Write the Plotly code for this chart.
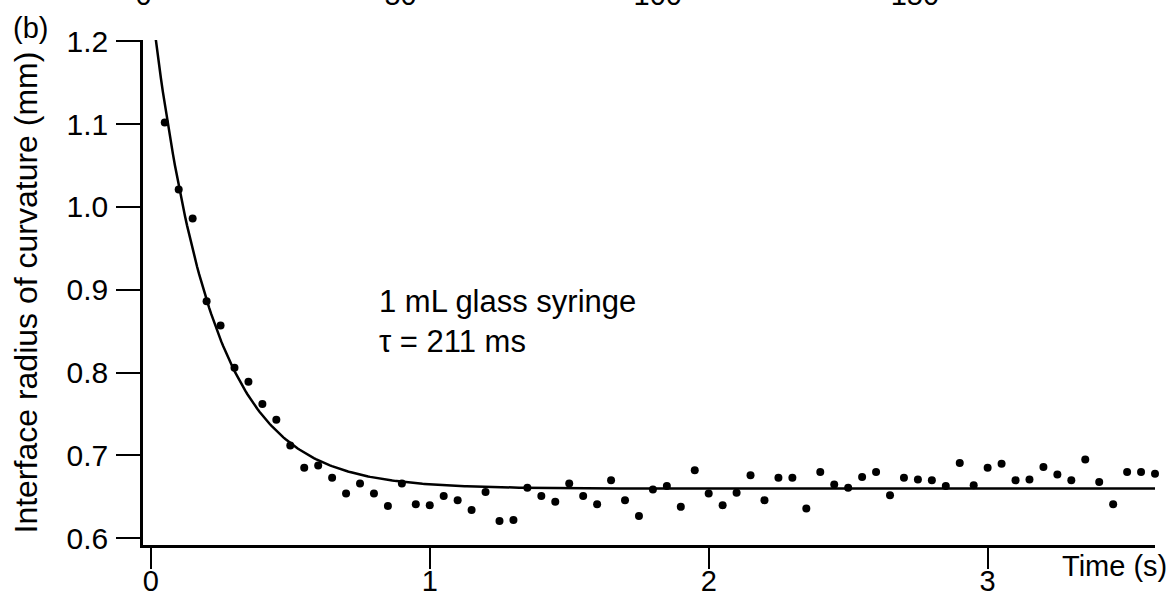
import plotly.graph_objects as go
import numpy as np

# ---- data ----
time_s = [0.05, 0.10, 0.15, 0.20, 0.25, 0.30, 0.35, 0.40, 0.45, 0.50,
          0.55, 0.60, 0.65, 0.70, 0.75, 0.80, 0.85, 0.90, 0.95, 1.00,
          1.05, 1.10, 1.15, 1.20, 1.25, 1.30, 1.35, 1.40, 1.45, 1.50,
          1.55, 1.60, 1.65, 1.70, 1.75, 1.80, 1.85, 1.90, 1.95, 2.00,
          2.05, 2.10, 2.15, 2.20, 2.25, 2.30, 2.35, 2.40, 2.45, 2.50,
          2.55, 2.60, 2.65, 2.70, 2.75, 2.80, 2.85, 2.90, 2.95, 3.00,
          3.05, 3.10, 3.15, 3.20, 3.25, 3.30, 3.35, 3.40, 3.45, 3.50,
          3.55, 3.60]
radius_mm = [1.102, 1.021, 0.986, 0.886, 0.857, 0.806, 0.789, 0.762, 0.743, 0.712,
             0.685, 0.688, 0.673, 0.654, 0.666, 0.654, 0.639, 0.666, 0.641, 0.640,
             0.651, 0.646, 0.634, 0.656, 0.621, 0.622, 0.661, 0.651, 0.644, 0.666,
             0.651, 0.641, 0.670, 0.646, 0.627, 0.659, 0.663, 0.638, 0.682, 0.654,
             0.640, 0.655, 0.676, 0.646, 0.673, 0.673, 0.636, 0.680, 0.665, 0.661,
             0.674, 0.680, 0.652, 0.673, 0.671, 0.670, 0.663, 0.691, 0.664, 0.685,
             0.690, 0.670, 0.671, 0.686, 0.677, 0.670, 0.695, 0.668, 0.641, 0.680,
             0.680, 0.678]

# exponential fit parameters (tau from the label)
TAU_S = 0.211
R_INF = 0.660
AMP = 0.588

x_ticks = [0, 1, 2, 3]
y_ticks = [0.6, 0.7, 0.8, 0.9, 1.0, 1.1, 1.2]
top_ticks = [0, 50, 100, 150]   # cropped axis of the panel above

fit_t = np.linspace(0, 3.6, 500)
fit_r = R_INF + AMP * np.exp(-fit_t / TAU_S)

FONT = "Liberation Sans, Arial, sans-serif"

fig = go.Figure()
fig.add_trace(go.Scatter(x=fit_t, y=fit_r, mode="lines",
                         line=dict(color="black", width=2.5),
                         showlegend=False, hoverinfo="skip"))
fig.add_trace(go.Scatter(x=time_s, y=radius_mm, mode="markers",
                         marker=dict(color="black", size=8),
                         cliponaxis=False, showlegend=False))
# helper trace so the cropped top axis is drawn
fig.add_trace(go.Scatter(x=top_ticks, y=[None] * len(top_ticks), xaxis="x2", yaxis="y",
                         mode="markers", showlegend=False, hoverinfo="skip"))

fig.update_layout(
    template="none",
    width=1176, height=614,
    margin=dict(l=143, r=21, t=40, b=69, autoexpand=False),
    paper_bgcolor="white", plot_bgcolor="white",
    font=dict(family=FONT, size=28, color="black"),
    xaxis=dict(range=[-0.028, 3.6], tickvals=x_ticks, ticktext=[str(v) for v in x_ticks],
               showgrid=False, zeroline=False, showline=True, linecolor="black",
               linewidth=2.5, ticks="outside", ticklen=21, tickwidth=2.2,
               tickcolor="black", ticklabelstandoff=-13, automargin=False,
               tickfont=dict(family=FONT, size=29)),
    xaxis2=dict(overlaying="x", side="top", anchor="y", range=[-0.097, 196.7],
                tickvals=top_ticks, ticktext=[str(v) for v in top_ticks],
                showgrid=False, zeroline=False, showline=False,
                ticks="outside", ticklen=22, tickcolor="rgba(0,0,0,0)",
                automargin=False, tickfont=dict(family=FONT, size=29)),
    yaxis=dict(range=[0.5919, 1.2015], tickvals=y_ticks,
               ticktext=[f"{v:.1f}" for v in y_ticks],
               showgrid=False, zeroline=False, showline=True, linecolor="black",
               linewidth=2.5, ticks="outside", ticklen=24, tickwidth=2.2,
               tickcolor="black", ticklabelstandoff=2, automargin=False,
               tickfont=dict(family=FONT, size=30)),
    annotations=[
        dict(text="Interface radius of curvature (mm)", textangle=-90,
             xref="paper", yref="paper", x=0, y=0.5, xshift=-118,
             xanchor="center", yanchor="middle", showarrow=False,
             font=dict(family=FONT, size=32)),
        dict(text="Time (s)", xref="paper", yref="paper", x=1, y=0,
             xshift=14, yshift=-21, xanchor="right", yanchor="middle",
             showarrow=False, font=dict(family=FONT, size=29)),
        dict(text="1 mL glass syringe<br>τ = 211 ms", xref="x", yref="y",
             x=0.81, y=0.862, xanchor="left", yanchor="middle", align="left",
             showarrow=False, font=dict(family=FONT, size=31)),
        dict(text="(b)", xref="paper", yref="paper", x=0, y=1,
             xshift=-132, yshift=-(28 - 40), xanchor="left", yanchor="middle",
             showarrow=False, font=dict(family=FONT, size=29)),
    ],
)

fig.write_html("out.html", config={"displayModeBar": False},
               post_script="document.body.style.margin='0';document.body.style.overflow='hidden';")
